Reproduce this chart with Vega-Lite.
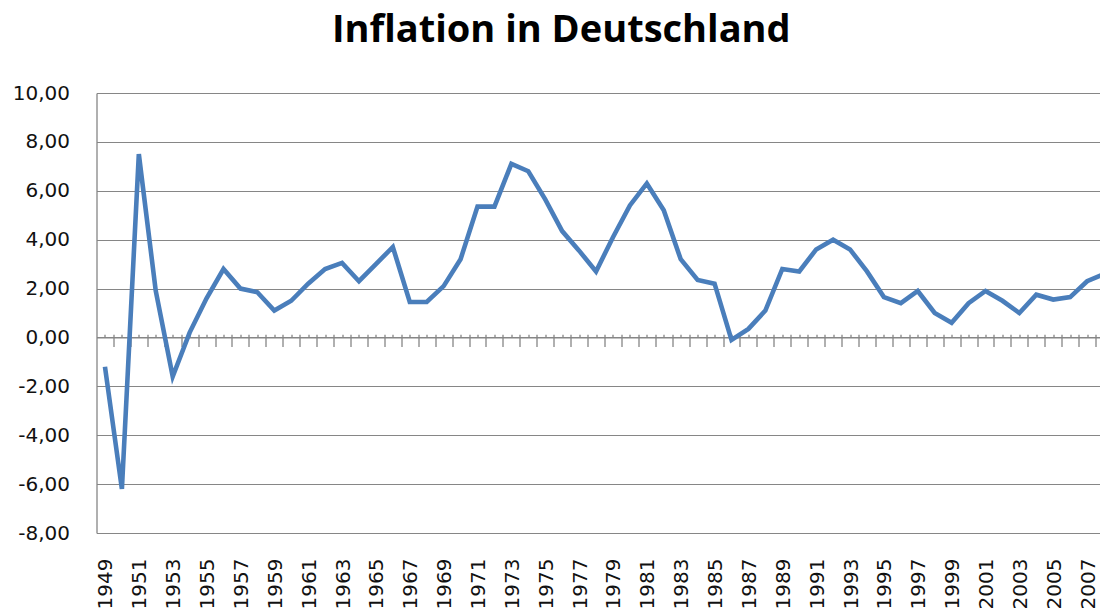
{
  "$schema": "https://vega.github.io/schema/vega-lite/v6.json",
  "width": 1003.5,
  "height": 440,
  "autosize": {"type": "none"},
  "padding": {"left": 96.5, "top": 93, "right": 0, "bottom": 79},
  "background": "#ffffff",
  "title": {
    "text": "Inflation in Deutschland",
    "font": "Open Sans",
    "fontSize": 38,
    "fontWeight": "bold",
    "color": "#000000",
    "anchor": "middle",
    "frame": "group",
    "dx": -37,
    "offset": 33
  },
  "config": {"view": {"stroke": null}},
  "data": {
    "values": [
      {"year": 1949, "value": -1.2},
      {"year": 1950, "value": -6.2},
      {"year": 1951, "value": 7.5},
      {"year": 1952, "value": 1.9},
      {"year": 1953, "value": -1.6},
      {"year": 1954, "value": 0.2},
      {"year": 1955, "value": 1.6},
      {"year": 1956, "value": 2.8},
      {"year": 1957, "value": 2.0},
      {"year": 1958, "value": 1.85},
      {"year": 1959, "value": 1.1},
      {"year": 1960, "value": 1.5},
      {"year": 1961, "value": 2.2},
      {"year": 1962, "value": 2.8},
      {"year": 1963, "value": 3.05},
      {"year": 1964, "value": 2.3},
      {"year": 1965, "value": 3.0},
      {"year": 1966, "value": 3.7},
      {"year": 1967, "value": 1.45},
      {"year": 1968, "value": 1.45},
      {"year": 1969, "value": 2.1},
      {"year": 1970, "value": 3.2},
      {"year": 1971, "value": 5.35},
      {"year": 1972, "value": 5.35},
      {"year": 1973, "value": 7.1},
      {"year": 1974, "value": 6.8},
      {"year": 1975, "value": 5.65},
      {"year": 1976, "value": 4.35},
      {"year": 1977, "value": 3.55},
      {"year": 1978, "value": 2.7},
      {"year": 1979, "value": 4.1},
      {"year": 1980, "value": 5.4},
      {"year": 1981, "value": 6.3},
      {"year": 1982, "value": 5.2},
      {"year": 1983, "value": 3.2},
      {"year": 1984, "value": 2.35},
      {"year": 1985, "value": 2.2},
      {"year": 1986, "value": -0.1},
      {"year": 1987, "value": 0.35},
      {"year": 1988, "value": 1.1},
      {"year": 1989, "value": 2.8},
      {"year": 1990, "value": 2.7},
      {"year": 1991, "value": 3.6},
      {"year": 1992, "value": 4.0},
      {"year": 1993, "value": 3.6},
      {"year": 1994, "value": 2.7},
      {"year": 1995, "value": 1.65},
      {"year": 1996, "value": 1.4},
      {"year": 1997, "value": 1.9},
      {"year": 1998, "value": 1.0},
      {"year": 1999, "value": 0.6},
      {"year": 2000, "value": 1.4},
      {"year": 2001, "value": 1.9},
      {"year": 2002, "value": 1.5},
      {"year": 2003, "value": 1.0},
      {"year": 2004, "value": 1.75},
      {"year": 2005, "value": 1.55},
      {"year": 2006, "value": 1.65},
      {"year": 2007, "value": 2.3},
      {"year": 2008, "value": 2.6}
    ]
  },
  "encoding": {
    "y": {
      "field": "value",
      "type": "quantitative",
      "scale": {"domain": [-8, 10], "nice": false, "zero": false},
      "axis": {
        "title": null,
        "values": [-8, -6, -4, -2, 0, 2, 4, 6, 8, 10],
        "labelExpr": "replace(replace(format(datum.value, '.2f'), '.', ','), '\u2212', '-')",
        "labelFont": "DejaVu Sans",
        "labelFontSize": 20,
        "labelColor": "#111111",
        "labelPadding": 27,
        "ticks": false,
        "tickSize": 0,
        "domain": true,
        "domainColor": "#868686",
        "domainWidth": 1.3,
        "grid": true,
        "gridColor": "#868686",
        "gridWidth": 1.2,
        "gridOpacity": 1
      }
    }
  },
  "layer": [
    {
      "mark": {"type": "line", "opacity": 0},
      "encoding": {
        "x": {
          "field": "year",
          "type": "ordinal",
          "scale": {"type": "point", "padding": 0.5, "range": [0, 1016]},
          "axis": {
            "orient": "bottom",
            "title": null,
            "values": [1949, 1951, 1953, 1955, 1957, 1959, 1961, 1963, 1965, 1967, 1969, 1971, 1973, 1975, 1977, 1979, 1981, 1983, 1985, 1987, 1989, 1991, 1993, 1995, 1997, 1999, 2001, 2003, 2005, 2007],
            "domain": false,
            "ticks": false,
            "tickSize": 0,
            "grid": false,
            "labelAngle": -90,
            "labelFont": "DejaVu Sans",
            "labelFontSize": 20,
            "labelColor": "#111111",
            "labelPadding": 25,
            "labelOffset": 1,
            "labelOverlap": false
          }
        }
      }
    },
    {
      "mark": {"type": "line", "opacity": 0},
      "encoding": {
        "x": {
          "field": "year",
          "type": "ordinal",
          "axis": {
            "orient": "bottom",
            "title": null,
            "offset": -195.56,
            "domain": false,
            "labels": false,
            "grid": false,
            "ticks": true,
            "tickSize": -3.3,
            "tickOffset": 0,
            "tickColor": "#868686",
            "tickWidth": 1.3
          }
        }
      }
    },
    {
      "mark": {"type": "line", "opacity": 0},
      "encoding": {
        "x": {
          "field": "year",
          "type": "ordinal",
          "axis": {
            "orient": "bottom",
            "title": null,
            "offset": -195.56,
            "domain": false,
            "labels": false,
            "grid": false,
            "ticks": true,
            "tickSize": -3.3,
            "tickOffset": 8.47,
            "tickColor": "#868686",
            "tickWidth": 1.3
          }
        }
      }
    },
    {
      "mark": {"type": "line", "color": "#4a7ebb", "strokeWidth": 4.6},
      "encoding": {
        "x": {
          "field": "year",
          "type": "ordinal",
          "axis": {
            "orient": "bottom",
            "title": null,
            "offset": -195.56,
            "domain": true,
            "domainColor": "#868686",
            "domainWidth": 1.3,
            "labels": false,
            "grid": false,
            "ticks": true,
            "tickSize": 9,
            "tickOffset": 8.47,
            "tickColor": "#868686",
            "tickWidth": 1.3
          }
        }
      }
    }
  ],
  "resolve": {"axis": {"x": "independent"}}
}
